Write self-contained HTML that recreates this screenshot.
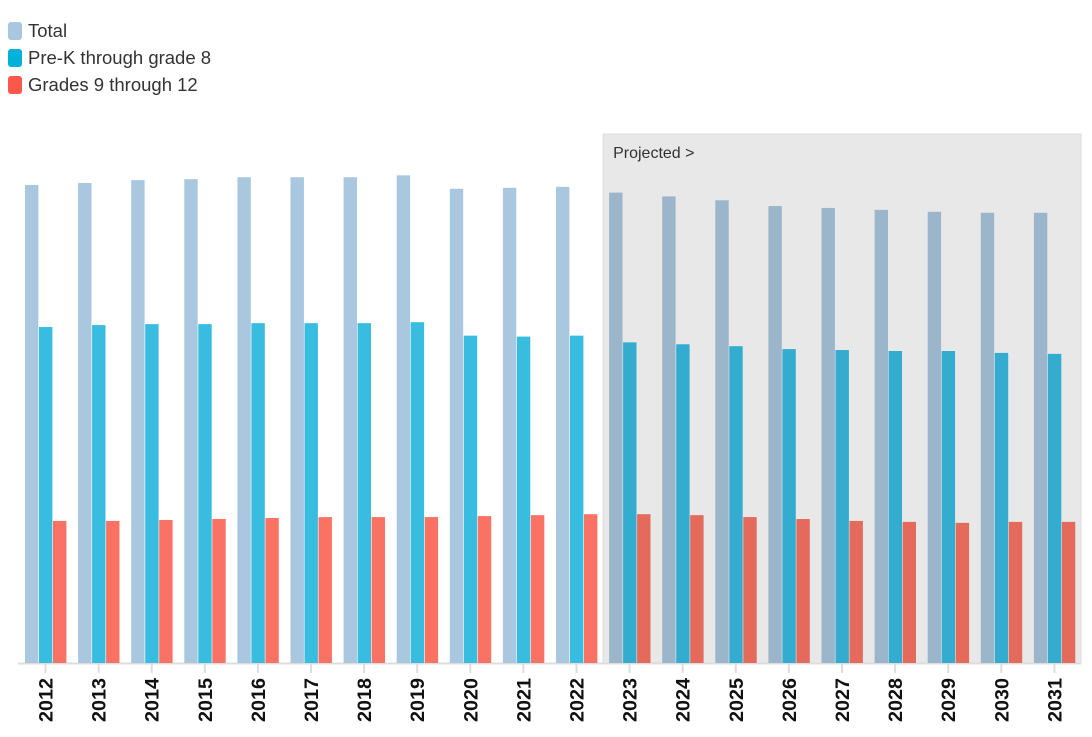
<!DOCTYPE html>
<html><head><meta charset="utf-8"><style>
body{margin:0;background:#fff;font-family:"Liberation Sans",sans-serif;}
.leg{position:absolute;left:8px;font-size:18.5px;color:#333;display:flex;align-items:center;}
.leg span.sw{width:14px;height:18px;border-radius:3px;margin-right:6px;display:inline-block}
</style></head><body>
<div class="leg" style="top:20px"><span class="sw" style="background:#a9c7df"></span>Total</div>
<div class="leg" style="top:47px"><span class="sw" style="background:#00b2d9"></span>Pre-K through grade 8</div>
<div class="leg" style="top:74px"><span class="sw" style="background:#f9594a"></span>Grades 9 through 12</div>
<svg id="chart" width="1092" height="737" style="position:absolute;left:0;top:0"></svg>
<script>
const years=[2012,2013,2014,2015,2016,2017,2018,2019,2020,2021,2022,2023,2024,2025,2026,2027,2028,2029,2030,2031];
const total=[49.8,50.0,50.3,50.4,50.6,50.6,50.6,50.8,49.4,49.5,49.6,49.0,48.6,48.2,47.6,47.4,47.2,47.0,46.9,46.9];
const prek=[35.0,35.2,35.3,35.3,35.4,35.4,35.4,35.5,34.1,34.0,34.1,33.4,33.2,33.0,32.7,32.6,32.5,32.5,32.3,32.2];
const grades=[14.8,14.8,14.9,15.0,15.1,15.2,15.2,15.2,15.3,15.4,15.5,15.5,15.4,15.2,15.0,14.8,14.7,14.6,14.7,14.7];
const projectedStart=2023;
const NS='http://www.w3.org/2000/svg';
const svg=document.getElementById('chart');
const base=663,scale=9.6,x0=25,step=53.1,bw=13.4;
const y=v=>base-v*scale;
const gx=i=>x0+i*step;
function mk(t,a){const e=document.createElementNS(NS,t);for(const k in a)e.setAttribute(k,a[k]);svg.appendChild(e);return e;}
const pi=years.indexOf(projectedStart);
const shade=mk('rect',{x:gx(pi)-6,y:134,width:1081-(gx(pi)-6),height:base-134,fill:'#e8e8e8',stroke:'#dcdcdc'});


const pt=mk('text',{x:gx(pi)+4,y:158,'font-size':16,fill:'#333','font-family':'Liberation Sans, sans-serif'});
pt.textContent='Projected >';


const ax=mk('line',{x1:18,x2:1081,y1:base+0.5,y2:base+0.5,stroke:'#ddd','stroke-width':2});


const series=[[total,'#a9c7df','#9bb6cb','total'],[prek,'#38bde0','#34acd0','prek'],[grades,'#fa7264','#e46a5c','grades']];
years.forEach((yr,i)=>{
  const proj=yr>=projectedStart;
  series.forEach((s,j)=>{
    const r=mk('rect',{x:gx(i)+j*14,y:y(s[0][i]),width:bw,height:s[0][i]*scale,fill:proj?s[2]:s[1]});
    
    
  });
  const cx=gx(i)+20.5;
  const tk=mk('line',{x1:cx,x2:cx,y1:base+1,y2:base+10,stroke:'#ddd','stroke-width':2});
  
  
  const t=mk('text',{x:0,y:0,transform:`translate(${cx+7},${722}) rotate(-90)`,'font-size':19,'font-weight':'bold',fill:'#111','font-family':'Liberation Sans, sans-serif','textLength':44,'lengthAdjust':'spacingAndGlyphs'});
  t.textContent=yr;
  
  
});
</script>
</body></html>
